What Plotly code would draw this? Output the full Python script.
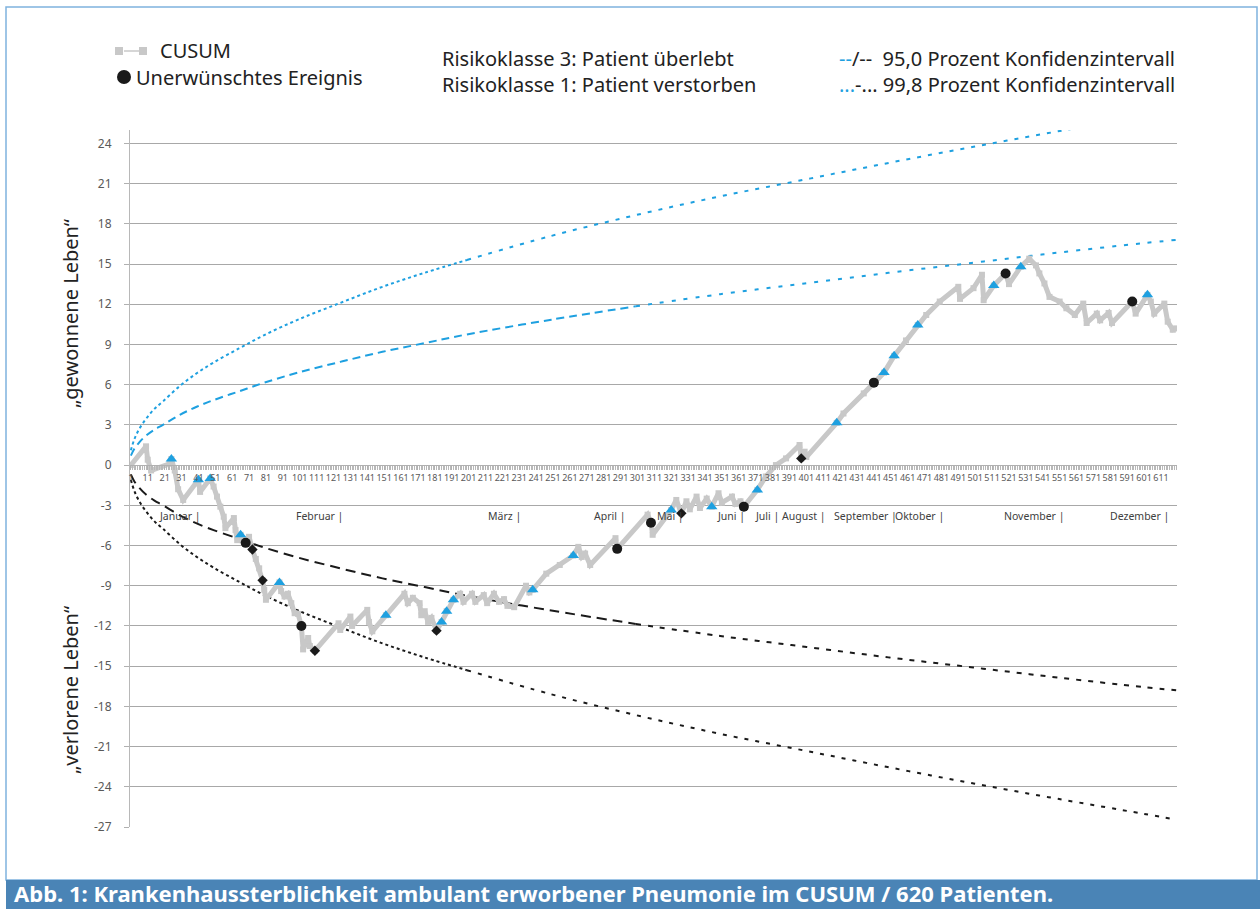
import plotly.graph_objects as go

# ---------------- data ----------------
cusum_n = [1,10,11,13,24,25,27,29,32,41,
           42,48,50,52,54,56,57,62,63,64,
           66,67,69,71,73,75,77,79,80,81,
           89,90,92,94,96,98,100,102,103,106,
           107,110,124,125,131,132,141,142,144,152,
           163,165,168,172,173,175,177,179,182,185,
           188,192,196,198,203,205,210,212,216,219,
           222,224,228,235,237,239,247,255,263,266,
           268,270,273,288,289,307,309,310,321,324,
           327,330,332,336,338,342,345,349,351,357,
           359,362,364,372,377,383,389,397,398,400,
           401,419,423,435,441,447,453,460,467,472,
           480,491,492,500,505,506,512,519,521,528,
           533,537,539,542,545,551,555,560,565,567,
           573,575,580,582,594,596,603,605,607,613,
           615,618,620]
cusum_v = [0.0,1.4,0.4,-0.4,0.1,0.45,-0.4,-1.8,-2.6,-1.1,
           -2.0,-1.0,-1.6,-2.35,-3.1,-3.85,-4.7,-3.95,-4.85,-5.6,
           -5.2,-5.6,-5.8,-5.35,-6.3,-7.0,-7.7,-8.6,-9.3,-10.05,
           -8.75,-9.4,-9.8,-9.6,-10.3,-11.05,-11.1,-12.0,-13.75,-12.9,
           -13.5,-13.85,-11.8,-12.3,-11.3,-12.0,-10.8,-11.7,-12.4,-11.2,
           -9.6,-10.3,-9.9,-10.3,-11.2,-10.9,-11.7,-11.4,-12.35,-11.7,
           -10.9,-10.05,-9.6,-10.2,-9.6,-10.2,-9.7,-10.3,-9.6,-10.2,
           -10.0,-10.5,-10.6,-9.0,-9.5,-9.3,-8.1,-7.45,-6.75,-6.1,
           -6.85,-6.6,-7.45,-5.45,-6.25,-3.7,-4.3,-5.2,-3.35,-2.6,
           -3.6,-2.7,-3.3,-2.35,-3.2,-2.5,-3.1,-2.1,-2.8,-2.35,
           -2.9,-2.7,-3.1,-1.85,-0.85,0.0,0.5,1.5,0.5,1.0,
           0.6,3.15,3.85,5.35,6.15,6.9,8.15,9.3,10.45,11.2,
           12.2,13.3,12.4,13.2,14.2,12.3,13.4,14.3,13.5,14.8,
           15.4,14.9,14.3,13.55,12.55,12.2,11.7,11.2,12.05,10.6,
           11.3,10.8,11.35,10.6,12.2,11.3,12.7,12.2,11.3,12.05,
           10.7,10.1,10.2]

tri_n = [25,41,48,66,89,152,185,188,192,239,263,321,345,372,419,447,453,467,512,528,603]
tri_v = [0.45,-1.1,-1.0,-5.2,-8.75,-11.2,-11.7,-10.9,-10.05,-9.3,-6.75,-3.35,-3.1,-1.85,
         3.15,6.9,8.15,10.45,13.4,14.8,12.7]
circ_n = [69,102,289,309,364,441,519,594]
circ_v = [-5.8,-12.0,-6.25,-4.3,-3.1,6.15,14.3,12.2]
dia_n = [73,79,110,182,327,398]
dia_v = [-6.3,-8.6,-13.85,-12.35,-3.6,0.5]

ci_n = [1,3,6,10,15,20,30,40,50,65,80,100,125,150,175,200,250,300,350,400,450,500,550,600,620]
ci95 = [0.7,1.2,1.7,2.2,2.65,3.0,3.75,4.35,4.85,5.5,6.15,6.9,7.7,8.45,9.1,9.75,
        10.85,11.85,12.75,13.55,14.35,15.1,15.85,16.55,16.8]
ci998 = [1.1,1.9,2.7,3.45,4.2,4.75,5.9,6.85,7.65,8.7,9.7,10.85,12.1,13.3,14.35,15.3,
         17.1,18.65,20.05,21.3,22.55,23.75,24.9,26.0,26.45]

months = ["Januar","Februar","März","April","Mai","Juni","Juli","August",
          "September","Oktober","November","Dezember"]
month_end = [43,128,233,295,330,366,386,413,456,484,555,617]

y_ticks = list(range(-27, 25, 3))

# ---------------- styling ----------------
GRAY = "#c8c8c8"
BLUE = "#1ea0e0"
BLACK = "#1a1a1a"
TXT = "#222222"
FONT = "Noto Sans"

W, H = 1260, 909
L, R, T, B = 130, 1177, 130, 827


def px(x):
    return (x - L) / (R - L)


def py(y):
    return (B - y) / (B - T)


fig = go.Figure()

split95 = ci_n.index(300)
split998 = ci_n.index(200)


def ci_trace(xs, ys, color, dash, width=2):
    fig.add_trace(go.Scatter(x=xs, y=ys, mode="lines", line=dict(color=color, dash=dash, width=width, shape="spline"),
                             hoverinfo="skip", showlegend=False))


# 95 % upper / lower
ci_trace(ci_n[:split95 + 1], ci95[:split95 + 1], BLUE, "8px,5px")
ci_trace(ci_n[split95:], ci95[split95:], BLUE, "4px,8px")
ci_trace(ci_n[:split95 + 1], [-v for v in ci95[:split95 + 1]], BLACK, "10px,6px")
ci_trace(ci_n[split95:], [-v for v in ci95[split95:]], BLACK, "5px,7px")
# 99.8 % upper / lower
ci_trace(ci_n[:split998 + 1], ci998[:split998 + 1], BLUE, "dot")
ci_trace(ci_n[split998:], ci998[split998:], BLUE, "4px,7px")
ci_trace(ci_n[:split998 + 1], [-v for v in ci998[:split998 + 1]], BLACK, "dot")
ci_trace(ci_n[split998:], [-v for v in ci998[split998:]], BLACK, "4px,7px")

# CUSUM
fig.add_trace(go.Scatter(x=cusum_n, y=cusum_v, mode="lines+markers",
                         line=dict(color=GRAY, width=5),
                         marker=dict(symbol="square", size=6, color=GRAY),
                         hoverinfo="skip", showlegend=False))
fig.add_trace(go.Scatter(x=tri_n, y=tri_v, mode="markers",
                         marker=dict(symbol="triangle-up", size=10, color=BLUE),
                         hoverinfo="skip", showlegend=False))
fig.add_trace(go.Scatter(x=circ_n, y=circ_v, mode="markers",
                         marker=dict(symbol="circle", size=10, color=BLACK),
                         hoverinfo="skip", showlegend=False))
fig.add_trace(go.Scatter(x=dia_n, y=dia_v, mode="markers",
                         marker=dict(symbol="diamond", size=8, color=BLACK),
                         hoverinfo="skip", showlegend=False))

annotations = []
# month labels
for m, e in zip(months, month_end):
    annotations.append(dict(x=e, y=-3.8, xref="x", yref="y", text=f"{m} |", showarrow=False,
                            xanchor="right", yanchor="middle",
                            font=dict(family=FONT, size=10.5, color="#404040")))

# legend texts
annotations += [
    dict(x=px(158), y=py(50), text="CUSUM", xanchor="left"),
    dict(x=px(134), y=py(77), text="Unerwünschtes Ereignis", xanchor="left"),
    dict(x=px(440), y=py(58), text="Risikoklasse 3: Patient überlebt", xanchor="left"),
    dict(x=px(440), y=py(84), text="Risikoklasse 1: Patient verstorben", xanchor="left"),
    dict(x=px(837), y=py(58),
         text=f"<span style='color:{BLUE}'>--</span>/--\u00a0\u00a095,0 Prozent Konfidenzintervall",
         xanchor="left"),
    dict(x=px(837), y=py(84),
         text=f"<span style='color:{BLUE}'>...</span>-... 99,8 Prozent Konfidenzintervall",
         xanchor="left"),
]
for a in annotations[len(months):]:
    a.update(xref="paper", yref="paper", showarrow=False, yanchor="middle",
             font=dict(family=FONT, size=20, color=TXT))

# axis titles
annotations += [
    dict(x=px(70), y=py(314), xref="paper", yref="paper", text="„gewonnene Leben“",
         xanchor="center", yanchor="middle",
         textangle=-90, showarrow=False, font=dict(family=FONT, size=20, color=TXT)),
    dict(x=px(70), y=py(690), xref="paper", yref="paper", text="„verlorene Leben“",
         xanchor="center", yanchor="middle",
         textangle=-90, showarrow=False, font=dict(family=FONT, size=20, color=TXT)),
]
# caption
annotations.append(dict(x=px(12), y=py(893), xref="paper", yref="paper", xanchor="left", yanchor="middle",
                        text="<b>Abb. 1: Krankenhaussterblichkeit ambulant erworbener Pneumonie im CUSUM / 620 Patienten.</b>",
                        showarrow=False, font=dict(family=FONT, size=22, color="white")))

shapes = [
    # outer frame
    dict(type="rect", xref="paper", yref="paper", x0=px(6), x1=px(1257), y0=py(880), y1=py(7),
         line=dict(color="#7fb3de", width=1.5), layer="below"),
    # caption bar
    dict(type="rect", xref="paper", yref="paper", x0=px(6), x1=px(1262), y0=py(915), y1=py(880),
         fillcolor="#4a84b6", line=dict(width=0), layer="below"),
    # legend CUSUM symbol
    dict(type="rect", xref="paper", yref="paper", x0=px(115), x1=px(123), y0=py(55), y1=py(47),
         fillcolor=GRAY, line=dict(width=0)),
    dict(type="line", xref="paper", yref="paper", x0=px(124), x1=px(139), y0=py(51), y1=py(51),
         line=dict(color=GRAY, width=1.5)),
    dict(type="rect", xref="paper", yref="paper", x0=px(139), x1=px(147), y0=py(55), y1=py(47),
         fillcolor=GRAY, line=dict(width=0)),
    # legend circle
    dict(type="circle", xref="paper", yref="paper", x0=px(117), x1=px(131), y0=py(84), y1=py(70),
         fillcolor=BLACK, line=dict(width=0)),
]

fig.update_layout(
    width=W, height=H,
    margin=dict(l=L, r=W - R, t=T, b=H - B),
    paper_bgcolor="white", plot_bgcolor="white",
    showlegend=False,
    annotations=annotations, shapes=shapes,
    xaxis=dict(range=[0.5, 620.5], anchor="free", position=27 / 52,
               tickmode="linear", tick0=1, dtick=10, tickangle=0,
               ticks="outside", ticklen=4, tickcolor="#b0b0b0", tickwidth=1,
               minor=dict(dtick=1, ticks="outside", ticklen=4, tickcolor="#b8b8b8", tickwidth=1),
               showline=True, linecolor="#b0b0b0", linewidth=1,
               showgrid=False, zeroline=False,
               tickfont=dict(family=FONT, size=9, color="#595959")),
    yaxis=dict(range=[-27, 25], tickvals=y_ticks, ticktext=[str(v) for v in y_ticks],
               ticks="outside", ticklen=5, tickcolor="#b0b0b0",
               showline=True, linecolor="#b8b8b8", linewidth=1,
               showgrid=True, gridcolor="#a8a8a8", gridwidth=1, zeroline=False,
               ticklabelstandoff=10,
               tickfont=dict(family=FONT, size=12, color="#595959")),
)

fig.write_html("out.html")
